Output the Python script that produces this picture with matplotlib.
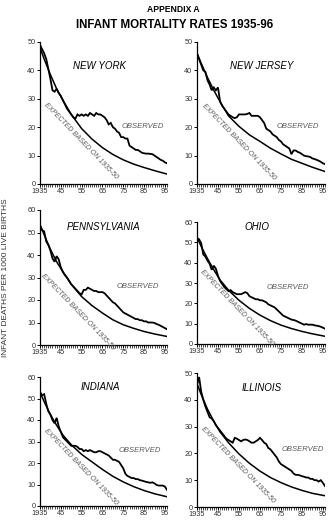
import matplotlib
matplotlib.use("Agg")
import matplotlib.pyplot as plt
from matplotlib.ticker import MultipleLocator

plt.rcParams["font.family"] = ["Liberation Sans", "DejaVu Sans"]

# Yearly observed rates, 1935-1996
YEARS = list(range(1935, 1997))
# Expected curve (fit on 1935-50), sampled at these years
EXP_YEARS = [1935, 1937, 1940, 1943, 1946, 1950, 1955, 1960, 1965, 1970,
             1975, 1980, 1985, 1990, 1996]

XTICKS = [1935, 1945, 1955, 1965, 1975, 1985, 1995]
XTICK_LABELS = ["1935", "45", "55", "65", "75", "85", "95"]

NY_OBSERVED = [49, 47.5, 46, 44, 40.5, 37, 33, 32.5, 33.5, 32,
               31, 29.5, 28, 26.5, 25.5, 24.5, 23.5, 23, 24.5, 24,
               24.5, 24, 24.5, 24, 25, 24.5, 24, 25, 24.5, 24.5,
               24, 23.5, 22.5, 21, 21.5, 20, 19.5, 18.5, 18, 16.5,
               16.5, 16, 16, 13.5, 13, 12.5, 12, 12, 11.5, 11,
               10.8, 10.7, 10.7, 10.6, 10.5, 10, 9.5, 9, 8.5, 8.2,
               7.6, 7.3]
NY_EXPECTED = [48, 44, 38.5, 33.5, 29.5, 24.5, 19.5, 15.8, 12.8, 10.4,
               8.5, 7, 5.8, 4.7, 3.5]

NJ_OBSERVED = [46, 44, 42, 40, 39.5, 36.5, 35, 33, 34, 33,
               34, 29, 27.5, 26.5, 25.5, 24.5, 24, 23.5, 23.2, 23.5,
               24.5, 24.5, 24.5, 24.5, 24.7, 25, 24, 24, 24, 24,
               23.5, 22.5, 21.5, 19.5, 19, 18.5, 17.5, 17, 16.5, 15.5,
               15, 14, 13.5, 13, 12.5, 10.5, 11.8, 11.8, 11.3, 11,
               10.5, 10, 9.8, 9.7, 9.5, 9, 8.8, 8.5, 8.2, 7.8,
               7.3, 7]
NJ_EXPECTED = [46, 42.5, 37.5, 33, 29, 24, 20.3, 17.3, 15, 12.6,
               10.6, 8.7, 7.3, 5.9, 4.4]

PA_OBSERVED = [53, 51, 50.5, 46, 44.5, 42, 38.5, 37, 39.5, 38,
               34.5, 32.5, 31, 30, 28.5, 27, 26, 25, 24, 23,
               22.5, 24.5, 24.5, 25.5, 25, 24.5, 24, 24, 23.5, 23.5,
               23.5, 23, 22, 21, 20, 19, 18.5, 17.5, 16.5, 15.5,
               14.5, 14, 13.5, 13, 12.5, 12, 11.5, 11.5, 11, 11,
               10.5, 10.5, 10, 10, 10, 9.8, 9.3, 9, 8.5, 8,
               7.5, 7]
PA_EXPECTED = [53.5, 49, 42.5, 37, 32.5, 27, 21.5, 17.5, 14.2, 11.2,
               9, 7.4, 6, 4.9, 3.8]

OH_OBSERVED = [52, 51.5, 49.5, 44, 43, 41, 39.5, 36.5, 38.5, 37,
               33.5, 31, 29.5, 28, 27, 26, 26.5, 25.5, 25, 24.5,
               24.5, 24.5, 25, 25.5, 25, 23.5, 23, 22.5, 22, 22,
               21.5, 21.5, 21, 20.5, 19.5, 19, 18.5, 18, 17, 16,
               15, 14, 13.5, 13, 12.5, 12, 11.8, 11.5, 11, 10.5,
               10, 9.5, 9.8, 9.5, 9.5, 9.5, 9.2, 9, 8.8, 8.5,
               8, 7.5]
OH_EXPECTED = [52.5, 48, 42, 36.5, 31.5, 26.5, 21.5, 17.5, 14.2, 11.5,
               9.3, 7.6, 6.2, 5, 3.8]

IN_OBSERVED = [53, 51.5, 52, 47.5, 44, 42.5, 40, 38.5, 41, 37,
               34.5, 32, 31, 30, 29, 28, 28, 28, 27.5, 26.5,
               26.5, 25.5, 26, 25.5, 26, 25.5, 25, 25, 25.5, 25.5,
               25, 24.5, 24, 23.5, 22.5, 21.5, 21.5, 21, 20.5, 19,
               17.5, 15, 14, 13.5, 13, 13, 12.5, 12.5, 12, 11.8,
               11.5, 11.2, 11, 10.8, 11, 10.5, 9.8, 9.5, 9.5, 9.5,
               9, 7.5]
IN_EXPECTED = [53, 48.5, 42.5, 37.5, 33, 28.5, 24, 20.5, 17, 13.8,
               11.2, 9, 7.2, 5.7, 4.3]

IL_OBSERVED = [45.5, 48.5, 43, 40, 37.5, 35.5, 33.5, 33, 32, 30.5,
               29.5, 28.5, 27.5, 26.5, 25.5, 25, 24.5, 24, 25.8, 25.5,
               25, 24.5, 25, 25.2, 25, 24.5, 24, 24, 24.5, 25,
               25.8, 25, 24, 23.5, 22, 21.5, 20.5, 19.5, 18.5, 17,
               16, 15.5, 15, 14.5, 14, 13.5, 12.5, 12, 12, 11.8,
               11.5, 11.3, 11, 11, 10.5, 10.5, 10, 10, 9.5, 10,
               9, 7.8]
IL_EXPECTED = [46, 42, 36.5, 32, 28, 24, 19.8, 16.3, 13.4, 11,
               9.1, 7.5, 6.2, 5.1, 4.2]

W, H = 328, 521


def px_rect(left, top, right, bottom):
    """Axes rectangle from pixel edges (origin top-left)."""
    return [left / W, 1 - bottom / H, (right - left) / W, (bottom - top) / H]


# name, observed, expected, ymax, axes box, title pos, observed-label pos, expected-label pos
panels = [
    ("NEW YORK", NY_OBSERVED, NY_EXPECTED, 50, px_rect(40, 42, 167, 184),
     (1963.8, 41.5), (1984.5, 20.1), (1954.8, 15.0)),
    ("NEW JERSEY", NJ_OBSERVED, NJ_EXPECTED, 50, px_rect(197, 42, 325, 184),
     (1966.0, 41.5), (1983.1, 20.1), (1955.0, 14.8)),
    ("PENNSYLVANIA", PA_OBSERVED, PA_EXPECTED, 60, px_rect(40, 210, 167, 345),
     (1965.3, 52.4), (1982.1, 25.8), (1953.0, 14.5)),
    ("OHIO", OH_OBSERVED, OH_EXPECTED, 60, px_rect(197, 222, 325, 344),
     (1963.6, 57.5), (1978.4, 28.0), (1954.2, 17.5)),
    ("INDIANA", IN_OBSERVED, IN_EXPECTED, 60, px_rect(40, 377, 167, 506),
     (1963.8, 55.3), (1983.0, 26.0), (1954.8, 18.3)),
    ("ILLINOIS", IL_OBSERVED, IL_EXPECTED, 50, px_rect(197, 373, 325, 507),
     (1966.0, 44.4), (1985.5, 21.6), (1954.7, 15.8)),
]

fig = plt.figure(figsize=(W / 100, H / 100), dpi=100)
fig.patch.set_facecolor("white")

for name, observed, expected, ymax, rect, title_xy, obs_xy, exp_xy in panels:
    ax = fig.add_axes(rect)
    ax.plot(YEARS, observed, color="black", lw=1.3, solid_joinstyle="miter")
    ax.plot(EXP_YEARS, expected, color="black", lw=1.1)

    ax.set_xlim(1935, 1996)
    ax.set_ylim(0, ymax)
    ax.set_xticks(XTICKS)
    ax.set_xticklabels(XTICK_LABELS)
    ax.xaxis.set_minor_locator(MultipleLocator(1))
    ax.set_yticks(range(0, ymax + 1, 10))

    for side in ("top", "right"):
        ax.spines[side].set_visible(False)
    for side in ("left", "bottom"):
        ax.spines[side].set_linewidth(0.9)
    ax.tick_params(which="major", direction="out", length=2.2, width=0.7,
                   labelsize=5.3, labelcolor="#333333", pad=1)
    ax.tick_params(which="minor", direction="out", length=1.8, width=0.5)
    ax.tick_params(axis="y", which="minor", length=0)

    ax.text(*title_xy, name, ha="center", va="center", fontsize=7,
            style="italic", color="black")
    ax.text(*obs_xy, "OBSERVED", ha="center", va="center", fontsize=5.5,
            style="italic", color="#5a5a5a")
    ax.text(*exp_xy, "EXPECTED BASED ON 1935-50", ha="center", va="center",
            fontsize=5.0, style="italic", color="#5a5a5a", rotation=-46,
            rotation_mode="anchor")

fig.text(173 / W, 1 - 9 / H, "APPENDIX A", ha="center", va="center",
         fontsize=6.2, fontweight="bold")
fig.text(175 / W, 1 - 25 / H, "INFANT MORTALITY RATES 1935-96", ha="center",
         va="center", fontsize=8.3, fontweight="bold")
fig.text(6 / W, 1 - 278 / H, "INFANT DEATHS PER 1000 LIVE BIRTHS",
         ha="center", va="center", rotation=90, fontsize=6.0, color="#333333")

fig.savefig("out.png", dpi=100, facecolor="white")
